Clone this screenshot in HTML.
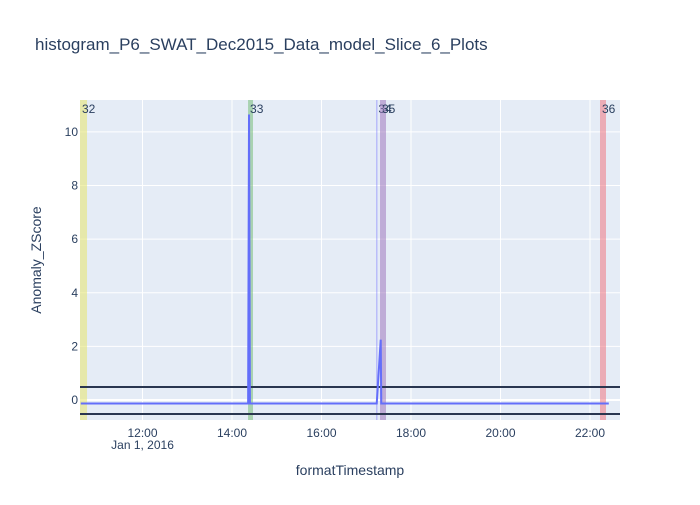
<!DOCTYPE html>
<html><head><meta charset="utf-8"><style>
body{margin:0;background:#fff;font-family:"Liberation Sans",Arial,sans-serif}
</style></head><body>
<svg id="chart" width="700" height="500" xmlns="http://www.w3.org/2000/svg" style="font-family:'Liberation Sans',Arial,sans-serif">
<rect width="700" height="500" fill="#fff"/>
<text x="35" y="50" font-size="17" fill="#2a3f5f">histogram_P6_SWAT_Dec2015_Data_model_Slice_6_Plots</text>
<rect x="80" y="100" width="540" height="320" fill="#e5ecf6"/>
<g id="grid"></g><g id="regions"></g><g id="series"></g><g id="axes"></g>
<text x="350" y="475" font-size="14" fill="#2a3f5f" text-anchor="middle">formatTimestamp</text>
<text transform="translate(41,260) rotate(-90)" font-size="14" fill="#2a3f5f" text-anchor="middle">Anomaly_ZScore</text>
</svg>
<script>
const xTicks=[12,14,16,18,20,22];
const xTickLabels=["12:00","14:00","16:00","18:00","20:00","22:00"];
const yTicks=[0,2,4,6,8,10];
const regionLabels=["32","33","34","35","36"];
const regionStart=[10.603,14.358,17.225,17.307,22.223];
const regionEnd=[10.76,14.469,17.233,17.441,22.357];
const regionColors=["rgba(230,230,120,0.6)","rgba(120,190,120,0.55)","rgba(120,120,255,0.6)","rgba(160,120,190,0.55)","rgba(240,120,130,0.55)"];
const seriesTimes=[10.62,14.36,14.38,14.40,17.234,17.323,17.335,22.42];
const seriesValues=[-0.13,-0.13,10.65,-0.13,-0.13,2.25,-0.13,-0.13];
const thresholds=[0.485,-0.52];
const NS="http://www.w3.org/2000/svg";
const X0=80,X1=620,Y0=100,Y1=420;
const xMin=10.603,xMax=22.67,yMin=-0.746,yMax=11.19;
const xs=h=>X0+(h-xMin)/(xMax-xMin)*(X1-X0);
const ys=v=>Y1-(v-yMin)/(yMax-yMin)*(Y1-Y0);
function el(tag,attrs,parent,txt){const e=document.createElementNS(NS,tag);for(const k in attrs)e.setAttribute(k,attrs[k]);if(txt!==undefined)e.textContent=txt;document.getElementById(parent).appendChild(e);return e;}
xTicks.forEach((t,i)=>{
 const g=el('line',{x1:xs(t),x2:xs(t),y1:Y0,y2:Y1,stroke:'#fff','stroke-width':1},'grid');
 
 
 const l=el('text',{x:xs(t),y:Y1+17,'font-size':12,fill:'#2a3f5f','text-anchor':'middle'},'axes',xTickLabels[i]);
 
 
});
const d=el('text',{x:xs(12),y:Y1+29,'font-size':12,fill:'#2a3f5f','text-anchor':'middle'},'axes','Jan 1, 2016');


yTicks.forEach(t=>{
 const g=el('line',{x1:X0,x2:X1,y1:ys(t),y2:ys(t),stroke:'#fff','stroke-width':t===0?2:1},'grid');
 
 
 const l=el('text',{x:X0-2,y:ys(t)+4,'font-size':12,fill:'#2a3f5f','text-anchor':'end'},'axes',String(t));
 
 
});
regionLabels.forEach((lab,i)=>{
 const x0=xs(regionStart[i]),x1=xs(regionEnd[i]);
 const r=el('rect',{x:x0,y:Y0,width:Math.max(1,x1-x0),height:Y1-Y0,fill:regionColors[i]},'regions');
 
 
 const t=el('text',{x:x0+2,y:Y0+13,'font-size':12,fill:'#2a3f5f'},'regions',lab);
 
 
});
thresholds.forEach(v=>{
 const l=el('line',{x1:X0,x2:X1,y1:ys(v),y2:ys(v),stroke:'#2a3650','stroke-width':2},'series');
 
 
});
const p=el('polyline',{points:seriesTimes.map((t,i)=>xs(t)+','+ys(seriesValues[i])).join(' '),fill:'none',stroke:'#636efa','stroke-width':2},'series');


</script>
</body></html>
